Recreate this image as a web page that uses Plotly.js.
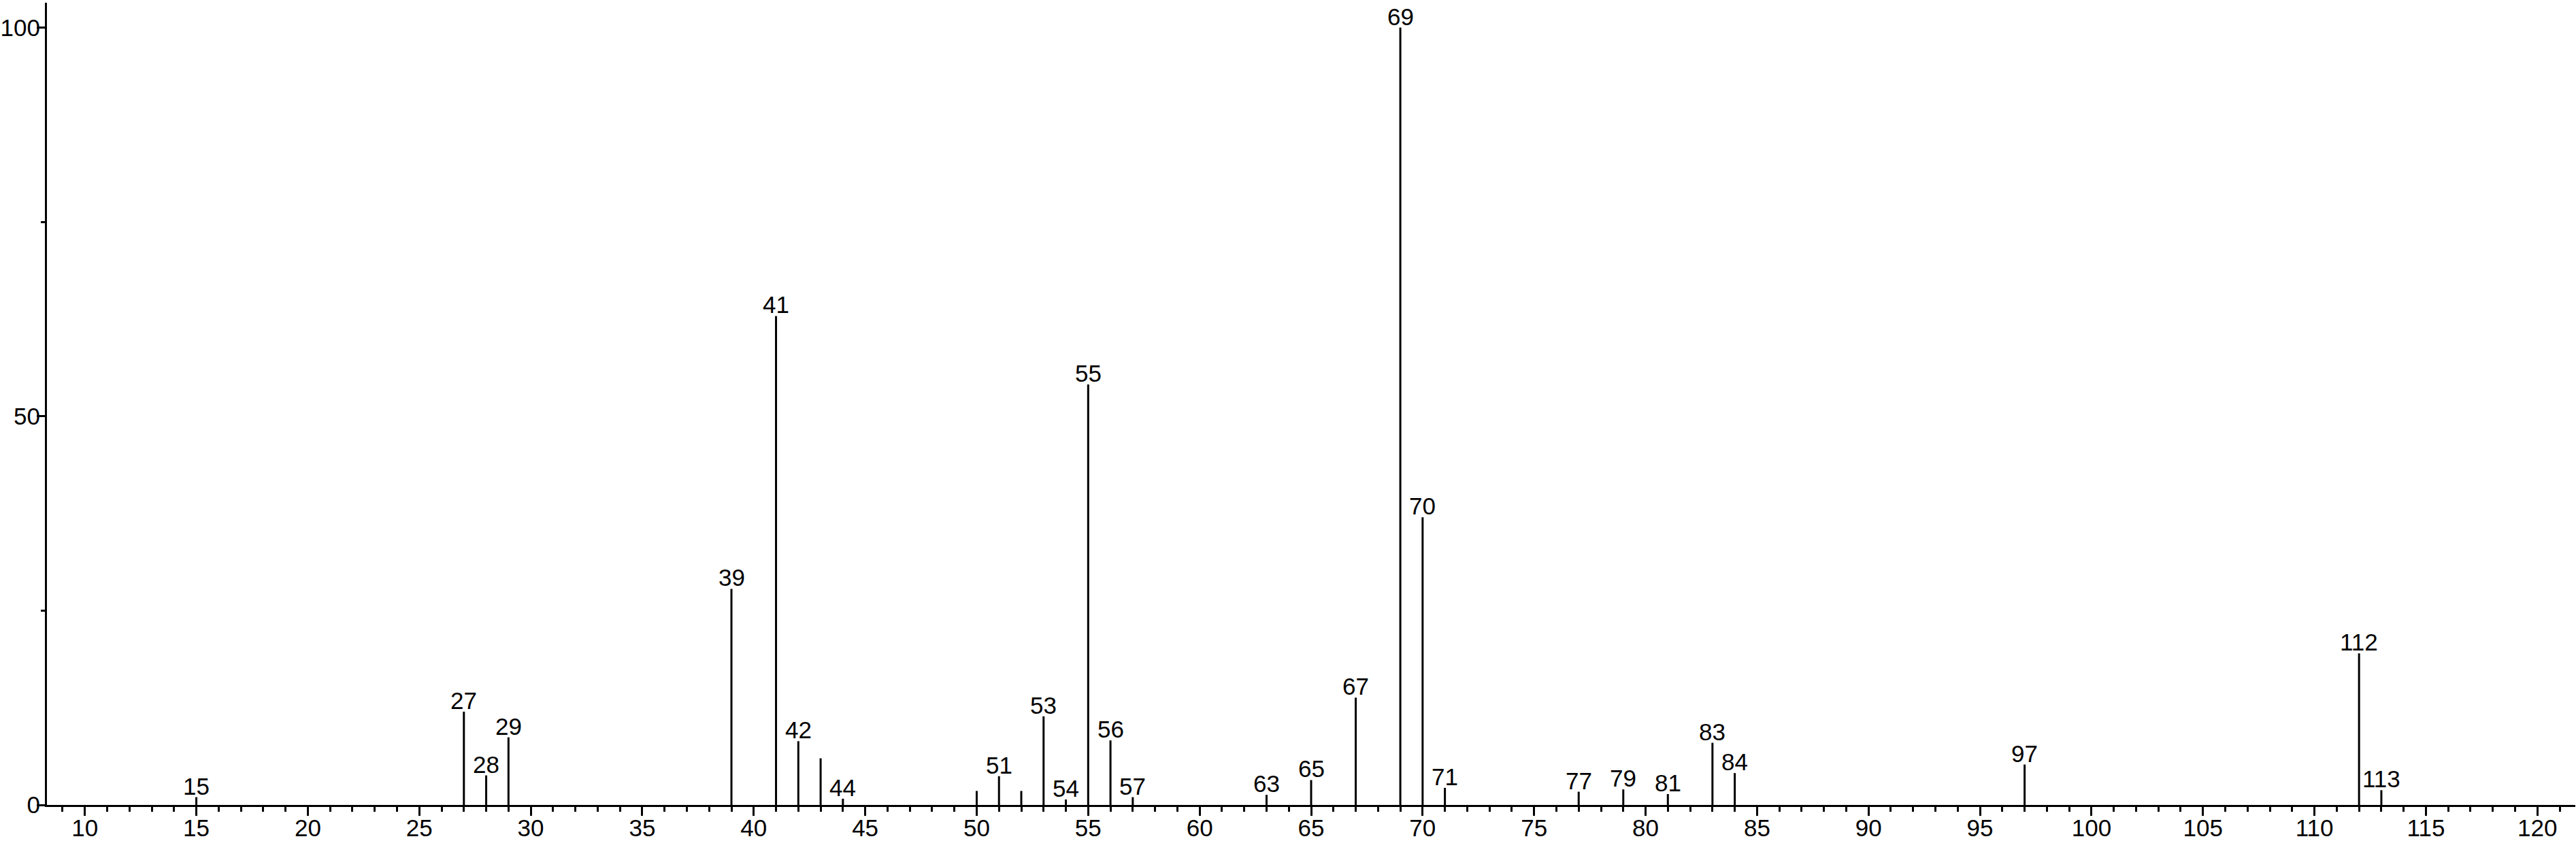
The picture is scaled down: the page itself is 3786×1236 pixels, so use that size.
<!DOCTYPE html>
<html>
<head>
<meta charset="utf-8">
<script src="https://cdn.plot.ly/plotly-3.0.1.min.js"></script>
<style>
html, body { margin: 0; padding: 0; background: #ffffff; }
#chart { width: 3786px; height: 1236px; }
</style>
</head>
<body>
<div id="chart"></div>
<script>
// m/z values of the peaks
const mz = [15, 27, 28, 29, 39, 41, 42, 43, 44, 50, 51, 52, 53, 54, 55, 56, 57, 63, 65, 67, 69, 70, 71, 77, 79, 81, 83, 84, 97, 112, 113];
// relative intensities (%)
const intensity = [1.0, 12.0, 3.8, 8.7, 27.8, 62.9, 8.2, 6.0, 0.8, 1.8, 3.7, 1.8, 11.4, 0.7, 54.1, 8.3, 1.0, 1.3, 3.2, 13.8, 100, 37.0, 2.2, 1.7, 2.0, 1.4, 8.0, 4.1, 5.2, 19.5, 1.9];
// peak labels ("" = unlabeled)
const peakLabels = ["15", "27", "28", "29", "39", "41", "42", "", "44", "", "51", "", "53", "54", "55", "56", "57", "63", "65", "67", "69", "70", "71", "77", "79", "81", "83", "84", "97", "112", "113"];

const FONT = '"Liberation Sans", Arial, Helvetica, sans-serif';
const FS = 35;

// stick spectrum: each peak as a vertical segment from 0 to its intensity
const stickX = [], stickY = [];
mz.forEach((m, i) => { stickX.push(m, m, null); stickY.push(0, intensity[i], null); });

const sticks = {
  type: 'scatter',
  mode: 'lines',
  x: stickX,
  y: stickY,
  line: { color: '#000000', width: 3 },
  hoverinfo: 'skip',
  cliponaxis: false
};

// peak labels placed on top of each labeled stick
const annotations = [];
mz.forEach((m, i) => {
  if (!peakLabels[i]) return;
  annotations.push({
    x: m, y: intensity[i], xref: 'x', yref: 'y',
    text: peakLabels[i], showarrow: false,
    xanchor: 'center', yanchor: 'bottom', yshift: -5,
    font: { family: FONT, size: FS, color: '#000000' }
  });
});

const layout = {
  width: 3786,
  height: 1236,
  margin: { l: 69, r: 1, t: 4, b: 53, pad: 0 },
  paper_bgcolor: '#ffffff',
  plot_bgcolor: '#ffffff',
  showlegend: false,
  font: { family: FONT, size: FS, color: '#000000' },
  annotations: annotations,
  xaxis: {
    range: [8.3, 121.7],
    tick0: 0,
    dtick: 5,
    ticks: 'outside',
    ticklen: 13,
    tickwidth: 3,
    tickcolor: '#000000',
    showline: true,
    linewidth: 3,
    linecolor: '#000000',
    showgrid: false,
    zeroline: false,
    ticklabelstandoff: -12,
    tickfont: { family: FONT, size: FS, color: '#000000' },
    minor: { dtick: 1, tick0: 0, ticks: 'outside', ticklen: 7, tickwidth: 3, tickcolor: '#000000', showgrid: false }
  },
  yaxis: {
    range: [0, 103.2],
    tick0: 0,
    dtick: 50,
    ticks: 'outside',
    ticklen: 12,
    tickwidth: 3,
    tickcolor: '#000000',
    showline: true,
    linewidth: 3,
    linecolor: '#000000',
    showgrid: false,
    zeroline: false,
    ticklabelstandoff: -12,
    tickfont: { family: FONT, size: FS, color: '#000000' },
    minor: { dtick: 25, tick0: 0, ticks: 'outside', ticklen: 6, tickwidth: 3, tickcolor: '#000000', showgrid: false }
  }
};

Plotly.newPlot('chart', [sticks], layout, { staticPlot: true, displayModeBar: false });
</script>
</body>
</html>
